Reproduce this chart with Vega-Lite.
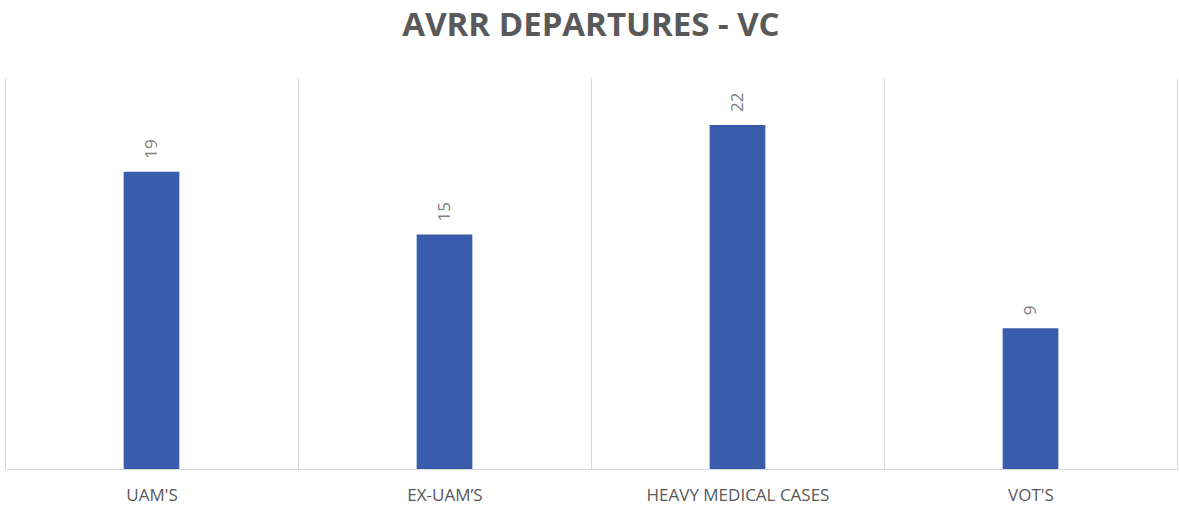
{
  "$schema": "https://vega.github.io/schema/vega-lite/v6.json",
  "width": 1172,
  "height": 391,
  "autosize": "none",
  "padding": {"left": 5, "top": 78, "right": 2, "bottom": 39},
  "background": "white",
  "config": {"view": {"stroke": null}},
  "title": {
    "text": "AVRR  DEPARTURES  - VC",
    "anchor": "middle",
    "frame": "group",
    "font": "Open Sans",
    "fontSize": 33,
    "fontWeight": "bold",
    "color": "#595959",
    "offset": 35
  },
  "data": {
    "values": [
      {"category": "UAM'S", "value": 19},
      {"category": "EX-UAM’S", "value": 15},
      {"category": "HEAVY MEDICAL CASES", "value": 22},
      {"category": "VOT'S", "value": 9}
    ]
  },
  "encoding": {
    "x": {
      "field": "category",
      "type": "nominal",
      "sort": null,
      "scale": {"paddingInner": 0, "paddingOuter": 0},
      "axis": {
        "title": null,
        "labelAngle": 0,
        "labelFont": "Open Sans",
        "labelFontSize": 17,
        "labelColor": "#595959",
        "labelPadding": 18,
        "labelLimit": 0,
        "ticks": false,
        "tickBand": "extent",
        "grid": true,
        "gridColor": "#d9d9d9",
        "domainColor": "#d9d9d9",
        "domainWidth": 1
      }
    },
    "y": {
      "field": "value",
      "type": "quantitative",
      "scale": {"domain": [0, 25]},
      "axis": null
    }
  },
  "layer": [
    {
      "mark": {"type": "bar", "color": "#3A5CAD", "width": {"band": 0.19}}
    },
    {
      "mark": {
        "type": "text",
        "angle": 270,
        "align": "left",
        "baseline": "middle",
        "dx": 13,
        "font": "Open Sans",
        "fontSize": 17,
        "color": "#808080"
      },
      "encoding": {"text": {"field": "value", "type": "quantitative"}}
    }
  ]
}
